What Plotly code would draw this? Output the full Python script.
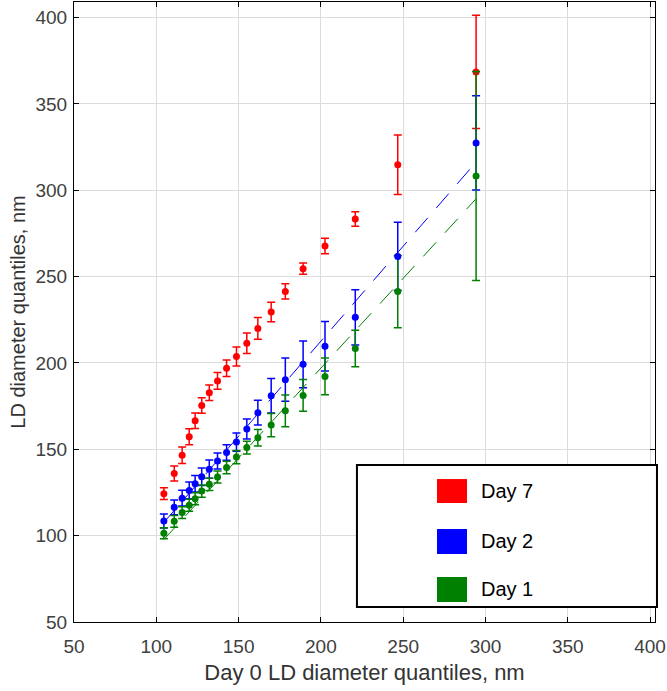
import plotly.graph_objects as go

# Day 0 quantiles (x)
day0_q = [104.6, 110.9, 115.7, 120.0, 123.6, 127.6, 132.2, 137.2, 142.7, 148.7,
          155.0, 161.7, 169.8, 178.4, 189.2, 202.5, 220.9, 246.7, 294.3]

day7_q = [124.3, 136.0, 146.6, 157.3, 166.5, 175.4, 182.7, 189.6, 196.9, 203.8,
          211.4, 220.0, 229.5, 241.4, 254.6, 267.7, 283.4, 314.8, 368.5]
day7_err = [3.4, 4.3, 4.8, 4.6, 4.5, 4.5, 4.5, 4.9, 4.8, 5.5,
            6.0, 6.3, 5.6, 4.4, 3.3, 4.5, 4.2, 17.2, 32.8]

day2_q = [108.5, 116.4, 121.7, 126.2, 130.1, 134.1, 138.5, 143.2, 148.2, 154.2,
          161.8, 171.2, 181.0, 190.3, 199.2, 209.7, 226.4, 261.7, 327.4]
day2_err = [4.0, 4.3, 4.6, 4.8, 4.8, 5.1, 5.3, 4.6, 4.5, 5.3,
            5.8, 7.2, 10.0, 12.5, 13.5, 14.3, 16.0, 19.7, 27.3]

day1_q = [101.4, 108.3, 113.4, 117.6, 121.4, 125.8, 129.7, 134.0, 139.5, 145.5,
          151.0, 156.7, 164.0, 172.3, 181.2, 192.2, 208.4, 241.3, 308.3]
day1_err = [3.2, 3.4, 3.4, 3.5, 3.5, 3.5, 3.5, 3.5, 3.6, 3.8,
            3.7, 4.8, 6.8, 9.2, 9.2, 10.6, 10.6, 20.9, 60.5]

# linear fits (slope, intercept)
day2_fit = (1.10, -7.4)
day1_fit = (1.04, -11.0)

tick_vals = [50, 100, 150, 200, 250, 300, 350, 400]
tick_text = ["50", "100", "150", "200", "250", "300", "350", "400"]

series_names = ["Day 7", "Day 2", "Day 1"]
colors = {"Day 7": "#ff0000", "Day 2": "#0000ff", "Day 1": "#008000"}

fit_x = [min(day0_q), max(day0_q)]

FONT = "Liberation Sans, Arial, sans-serif"

fig = go.Figure()

for name, (m, b) in (("Day 2", day2_fit), ("Day 1", day1_fit)):
    fig.add_trace(go.Scatter(
        x=fit_x, y=[m * v + b for v in fit_x], mode="lines",
        line=dict(color=colors[name], width=1, dash="19px,13px"),
        showlegend=False, hoverinfo="skip"))

def err_trace(name, y, e, markers=True, bars=True):
    return go.Scatter(
        x=day0_q, y=y, mode="markers", name=name, showlegend=False,
        marker=dict(color=colors[name], size=7, opacity=1 if markers else 0),
        error_y=dict(type="data", array=e, visible=bars, color=colors[name],
                     thickness=1.5, width=4))

fig.add_trace(err_trace("Day 7", day7_q, day7_err))
fig.add_trace(err_trace("Day 2", day2_q, day2_err, markers=False))
fig.add_trace(err_trace("Day 1", day1_q, day1_err))
fig.add_trace(err_trace("Day 2", day2_q, day2_err, bars=False))

axis_common = dict(
    showline=True, linecolor="black", linewidth=1, mirror="ticks",
    ticks="inside", ticklen=5, tickcolor="black", tickwidth=1,
    showgrid=True, gridcolor="#dcdcdc", gridwidth=1, zeroline=False,
    tickvals=tick_vals, ticktext=tick_text, automargin=False,
    tickfont=dict(family=FONT, size=19, color="#404040"),
)

fig.update_layout(
    width=667, height=691,
    margin=dict(l=74, r=12, t=2, b=69),
    paper_bgcolor="white", plot_bgcolor="white",
    xaxis=dict(range=[50, 403], ticklabelstandoff=7, title=dict(
        text="Day 0 LD diameter quantiles, nm", standoff=8,
        font=dict(family=FONT, size=22, color="#333333")),
        **axis_common),
    yaxis=dict(range=[50, 409], ticklabelstandoff=2, title=dict(
        text="LD diameter quantiles, nm", standoff=4,
        font=dict(family=FONT, size=20, color="#333333")),
        **axis_common),
    showlegend=False,
)

# manual legend (box, colour swatches, labels)
box = dict(x0=0.487, x1=1.0034, y0=0.0242, y1=0.2532)
fig.add_shape(type="rect", xref="paper", yref="paper", layer="above",
              line=dict(color="black", width=2), fillcolor="white", **box)
swatch_y = {"Day 7": (0.1919, 0.2306), "Day 2": (0.1097, 0.15), "Day 1": (0.0323, 0.0726)}
for name in series_names:
    y0, y1 = swatch_y[name]
    fig.add_shape(type="rect", xref="paper", yref="paper", layer="above",
                  x0=0.6248, x1=0.6764, y0=y0, y1=y1,
                  line=dict(width=0), fillcolor=colors[name])
    fig.add_annotation(xref="paper", yref="paper", x=0.697, y=(y0 + y1) / 2,
                       xanchor="left", yanchor="middle", showarrow=False,
                       text=name, font=dict(family=FONT, size=20, color="black"))

fig.write_html("out.html", config={"displayModeBar": False},
               post_script="document.body.style.margin='0';document.body.style.padding='0';")
